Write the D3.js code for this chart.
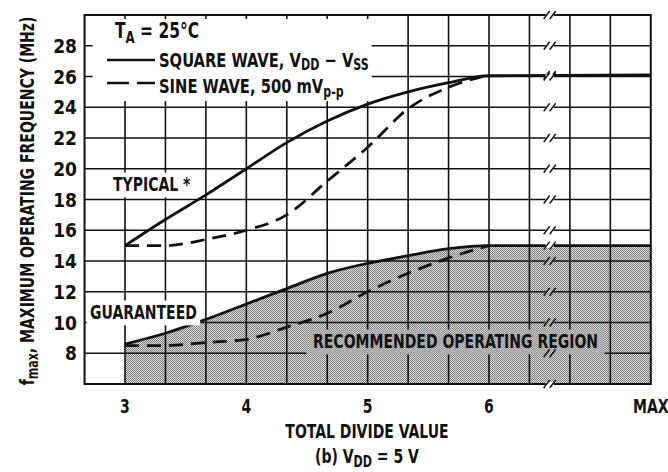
<!DOCTYPE html>
<html>
<head>
<meta charset="utf-8">
<script src="https://cdn.jsdelivr.net/npm/d3@7"></script>
<style>
body { margin: 0; background: #fff; }
text { font-family: 'DejaVu Sans Condensed', 'DejaVu Sans', sans-serif; font-weight: bold; fill: #111; }
</style>
</head>
<body>
<svg id="chart" width="668" height="472"></svg>
<script>
// total divide value (last point = MAX)
var divideValues = [3, 3.333, 3.667, 4, 4.333, 4.667, 5, 5.333, 5.667, 6, 7.333];
var typicalSquare = [15.0, 16.7, 18.3, 20.0, 21.7, 23.1, 24.2, 25.0, 25.6, 26.05, 26.1];
var typicalSine = [15.0, 15.0, 15.4, 16.0, 17.0, 19.2, 21.4, 23.9, 25.3, 26.1];
var guaranteedSquare = [8.6, 9.3, 10.2, 11.2, 12.2, 13.2, 13.85, 14.35, 14.8, 15.0, 15.0];
var guaranteedSine = [8.5, 8.5, 8.7, 8.9, 9.7, 10.6, 12.0, 13.2, 14.2, 15.0];

var freqTicks = [8, 10, 12, 14, 16, 18, 20, 22, 24, 26, 28];
var divideTicks = [3, 4, 5, 6, 7.333];
var divideTickLabels = ["3", "4", "5", "6", "MAX"];
var breakAt = 6.5;

var svg = d3.select("#chart");
var squeeze = 0.82;

var x = d3.scaleLinear().domain([3, 6]).range([125, 489]);
var y = d3.scaleLinear().domain([6, 30]).range([384, 15]);
var xMin = 3 - 1/3, xMax = 7 + 1/3;

// halftone pattern for the shaded region
var defs = svg.append("defs");
var pat = defs.append("pattern").attr("id", "dots")
	.attr("width", 2).attr("height", 2).attr("patternUnits", "userSpaceOnUse");
pat.append("rect").attr("width", 2).attr("height", 2).attr("fill", "#dcdcdc");
pat.append("rect").attr("width", 1).attr("height", 1).attr("fill", "#777");
pat.append("rect").attr("x", 1).attr("y", 1).attr("width", 1).attr("height", 1).attr("fill", "#858585");

var pts = function(vals) {
	return vals.map(function(v, i) { return [divideValues[i], v]; });
};

// condensed text group
function label(tx, ty, size, anchor, rot) {
	var g = svg.append("g")
		.attr("transform", "translate(" + tx + "," + ty + ")" + (rot ? " rotate(" + rot + ")" : "") + " scale(" + squeeze + ",1)");
	var t = g.append("text").attr("text-anchor", anchor || "start").style("font-size", size + "px");
	return t;
}
function sub(t, s, size, d) {
	t.append("tspan").attr("dy", d).style("font-size", size + "px").text(s);
}

// recommended operating region
var area = d3.area()
	.x(function(d) { return x(d[0]); })
	.y0(y(6))
	.y1(function(d) { return y(d[1]); })
	.curve(d3.curveMonotoneX);
svg.append("path").attr("d", area(pts(guaranteedSquare))).attr("fill", "url(#dots)");

// grid
var vgrid = d3.range(0, 13).map(function(k) { return 3 + k/3; });
svg.append("g").selectAll("line").data(vgrid).enter().append("line")
	.attr("x1", function(d) { return x(d); }).attr("x2", function(d) { return x(d); })
	.attr("y1", y(30)).attr("y2", y(6))
	.attr("stroke", "#111").attr("stroke-width", 1.6);
svg.append("g").selectAll("line").data(freqTicks).enter().append("line")
	.attr("x1", x(xMin)).attr("x2", x(xMax))
	.attr("y1", function(d) { return y(d); }).attr("y2", function(d) { return y(d); })
	.attr("stroke", "#111").attr("stroke-width", 1.6);

// curves
var line = d3.line()
	.x(function(d) { return x(d[0]); })
	.y(function(d) { return y(d[1]); })
	.curve(d3.curveMonotoneX);

function curve(vals, dashed) {
	svg.append("path").attr("d", line(pts(vals)))
		.attr("fill", "none").attr("stroke", "#111").attr("stroke-width", 2.8)
		.attr("stroke-dasharray", dashed ? "14,8" : null);
}

// boxed labels
function boxLabel(tx, ty, s, fill, padX, padY) {
	var t = label(tx, ty, 19).text(s);
	var b = t.node().getBBox();
	d3.select(t.node().parentNode).insert("rect", "text")
		.attr("x", b.x - padX).attr("y", b.y - padY + 2)
		.attr("width", b.width + 2 * padX).attr("height", b.height + 2 * padY - 3)
		.attr("fill", fill);
	return t;
}

// frame
svg.append("rect").attr("x", x(xMin)).attr("y", y(30))
	.attr("width", x(xMax) - x(xMin)).attr("height", y(6) - y(30))
	.attr("fill", "none").attr("stroke", "#111").attr("stroke-width", 2);

// legend box
svg.append("rect").attr("x", x(xMin) + 8).attr("y", y(30) + 4)
	.attr("width", x(5) + 4 - x(xMin) - 8).attr("height", y(24.4) - y(30) - 4)
	.attr("fill", "#fff");

curve(typicalSquare, false);
curve(typicalSine, true);
curve(guaranteedSquare, false);
curve(guaranteedSine, true);

boxLabel(113, 191, "TYPICAL *", "#fff", 7, 3);
boxLabel(90, 319, "GUARANTEED", "#fff", 4, 3);
boxLabel(313, 348, "RECOMMENDED OPERATING REGION", "url(#dots)", 8, 3);

// axis breaks
var flatT = typicalSquare[typicalSquare.length - 1];
var flatG = guaranteedSquare[guaranteedSquare.length - 1];
var breakLevels = [6, 30, flatT, flatG].concat(freqTicks);
var bx = x(breakAt);
var br = svg.append("g");
breakLevels.forEach(function(v) {
	var yy = y(v);
	br.append("rect").attr("x", bx - 4).attr("y", yy - 2).attr("width", 8).attr("height", 4)
		.attr("fill", (v < flatG && v > 6) ? "url(#dots)" : "#fff");
	[-3, 3].forEach(function(o) {
		br.append("line")
			.attr("x1", bx + o - 3).attr("y1", yy + 4)
			.attr("x2", bx + o + 3).attr("y2", yy - 4)
			.attr("stroke", "#111").attr("stroke-width", 1.4);
	});
});

// y axis labels
svg.append("g").selectAll("text").data(freqTicks).enter().append("text")
	.attr("x", 77).attr("y", function(d) { return y(d) + 7; })
	.attr("text-anchor", "end").style("font-size", "19px")
	.text(function(d) { return d; });

// x axis labels
divideTicks.forEach(function(d, i) {
	label(x(d), 413, 19, "middle").text(divideTickLabels[i]);
});

label(367, 438, 19, "middle").text("TOTAL DIVIDE VALUE");

var cap = label(367, 463, 19, "middle");
cap.append("tspan").text("(b)  V");
sub(cap, "DD", 15, 4);
cap.append("tspan").attr("dy", -4).text(" = 5  V");

var yl = label(34, 201, 19, "middle", -90);
yl.append("tspan").text("f");
sub(yl, "max", 15, 4);
yl.append("tspan").attr("dy", -4).text(", MAXIMUM OPERATING FREQUENCY (MHz)");

// legend
var ta = label(115, 38, 21);
ta.append("tspan").text("T");
sub(ta, "A", 16, 5);
ta.append("tspan").attr("dy", -5).text(" = 25°C");

svg.append("line").attr("x1", 107).attr("x2", 155).attr("y1", 60).attr("y2", 60)
	.attr("stroke", "#111").attr("stroke-width", 2.4);
svg.append("line").attr("x1", 107).attr("x2", 155).attr("y1", 83).attr("y2", 83)
	.attr("stroke", "#111").attr("stroke-width", 2.4).attr("stroke-dasharray", "22,8");

var sq = label(159, 67, 20);
sq.append("tspan").text("SQUARE WAVE, V");
sub(sq, "DD", 15, 3);
sq.append("tspan").attr("dy", -3).text(" − V");
sub(sq, "SS", 15, 3);

var sn = label(159, 93, 20);
sn.append("tspan").text("SINE WAVE, 500 mV");
sub(sn, "p-p", 15, 4);
</script>
</body>
</html>
